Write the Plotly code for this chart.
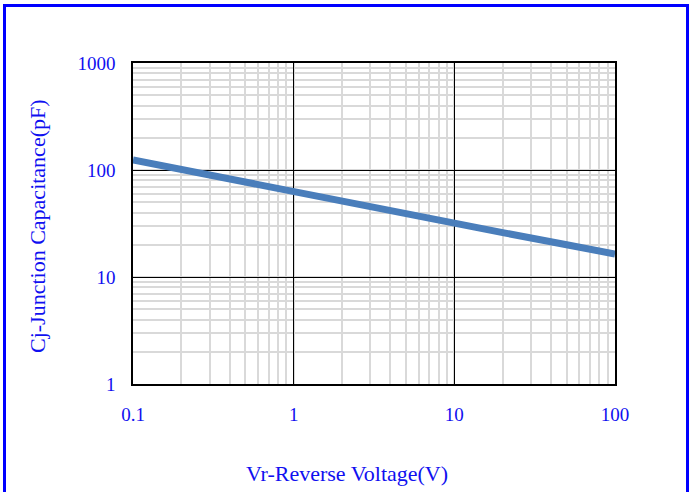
import plotly.graph_objects as go

# Data
voltage_v = [0.1, 0.2, 0.5, 1, 2, 5, 10, 20, 50, 100]
capacitance_pf = [124, 101, 76, 62, 50, 38, 32, 26, 20, 16.4]

x_tick_vals = [0.1, 1, 10, 100]
x_tick_text = ["0.1", "1", "10", "100"]
y_tick_vals = [1, 10, 100, 1000]
y_tick_text = ["1", "10", "100", "1000"]

x_title = "Vr-Reverse Voltage(V)"
y_title = "Cj-Junction Capacitance(pF)"

FONT = "Liberation Serif, Times New Roman, serif"
TXT = "#1010F0"

W, H = 694, 492
L, R, T, B = 133, 79, 63, 108
pw, ph = W - L - R, H - T - B


def px2paper_x(px):
    return (px - L) / pw


def px2paper_y(py):
    return (H - B - py) / ph


fig = go.Figure()
fig.add_trace(go.Scatter(
    x=voltage_v, y=capacitance_pf, mode="lines",
    line=dict(color="#4A7EBB", width=7),
    showlegend=False, hoverinfo="skip",
))

axis_common = dict(
    type="log",
    showline=True, linecolor="black", linewidth=1.5, mirror=True,
    showgrid=True, gridcolor="black", gridwidth=1.2,
    minor=dict(showgrid=True, dtick="D1", gridcolor="#D9D9D9", gridwidth=1.5, ticks=""),
    ticks="",
    tickfont=dict(family=FONT, size=19, color=TXT),
    zeroline=False,
)

fig.update_xaxes(range=[-1, 2], tickvals=x_tick_vals, ticktext=x_tick_text,
                 ticklabelstandoff=12, **axis_common)
fig.update_yaxes(range=[0, 3], tickvals=y_tick_vals, ticktext=y_tick_text,
                 ticklabelstandoff=12, **axis_common)

fig.update_layout(
    width=W, height=H,
    margin=dict(l=L, r=R, t=T, b=B),
    paper_bgcolor="white", plot_bgcolor="white",
    font=dict(family=FONT, color=TXT),
    annotations=[
        dict(text=x_title, xref="paper", yref="paper",
             x=px2paper_x(347), y=px2paper_y(473), xanchor="center", yanchor="middle",
             showarrow=False, font=dict(family=FONT, size=22, color=TXT)),
        dict(text=y_title, xref="paper", yref="paper",
             x=px2paper_x(38), y=px2paper_y(226), xanchor="center", yanchor="middle",
             textangle=-90,
             showarrow=False, font=dict(family=FONT, size=22, color=TXT)),
    ],
    shapes=[
        dict(type="rect", xref="paper", yref="paper",
             x0=px2paper_x(4.5), x1=px2paper_x(687.5),
             y0=px2paper_y(505), y1=px2paper_y(5.5),
             line=dict(color="#0000FF", width=3), fillcolor="rgba(0,0,0,0)",
             layer="above"),
    ],
)

fig.write_html("out.html", config={"displayModeBar": False},
               post_script="document.body.style.margin='0px';")
